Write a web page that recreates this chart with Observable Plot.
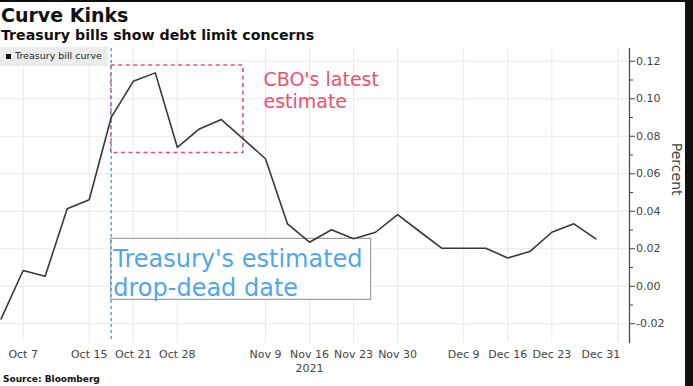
<!DOCTYPE html>
<html><head><meta charset="utf-8">
<script src="https://cdn.jsdelivr.net/npm/d3@7"></script>
<script src="https://cdn.jsdelivr.net/npm/@observablehq/plot@0.6"></script>
<style>
html,body{margin:0;padding:0;background:#111;width:693px;height:386px;overflow:hidden;}
#wrap{position:absolute;left:0;top:2px;width:685px;height:384px;background:#fff;overflow:hidden;font-family:"DejaVu Sans",sans-serif;}
#title{position:absolute;left:1px;top:2.4px;font-weight:bold;font-size:19px;line-height:1.164;color:#111;white-space:nowrap;}
#subtitle{position:absolute;left:1px;top:25px;font-weight:bold;font-size:14.2px;line-height:1.164;color:#111;white-space:nowrap;}
#chart{position:absolute;left:0;top:40px;}
#legend{position:absolute;left:0;top:45px;width:108px;height:19px;background:#ececec;}
#legend .sw{position:absolute;left:6px;top:7px;width:5px;height:5px;background:#111;}
#legend .lb{position:absolute;left:15px;top:3px;font-size:9.5px;line-height:1.164;color:#222;white-space:nowrap;}
#source{position:absolute;left:3px;top:371.6px;font-weight:bold;font-size:9px;line-height:1.164;color:#111;white-space:nowrap;}
</style>
</head><body>
<div id="wrap">
  <div id="title">Curve Kinks</div>
  <div id="subtitle">Treasury bills show debt limit concerns</div>
  <div id="chart"></div>
  <div id="legend"><div class="sw"></div><div class="lb">Treasury bill curve</div></div>
  <div id="source">Source: Bloomberg</div>
</div>
<script>
// Bill maturity dates (2021), equally spaced on the x axis
const dates = ["Oct 5","Oct 7","Oct 12","Oct 14","Oct 15","Oct 19","Oct 21","Oct 26","Oct 28",
  "Nov 2","Nov 4","Nov 5","Nov 9","Nov 12","Nov 16","Nov 18","Nov 23","Nov 26","Nov 30",
  "Dec 2","Dec 7","Dec 9","Dec 14","Dec 16","Dec 21","Dec 23","Dec 28","Dec 30","Dec 31"];
// Treasury bill yields (percent)
const rates = [-0.0174, 0.0084, 0.0053, 0.0413, 0.0461, 0.0901, 0.1093, 0.1138, 0.0741,
  0.0839, 0.0889, 0.0785, 0.0680, 0.0333, 0.0235, 0.0301, 0.0253, 0.0288, 0.0382,
  0.0292, 0.0203, 0.0203, 0.0203, 0.0151, 0.0185, 0.0288, 0.0333, 0.0253, null];
const xTickLabels = ["Oct 7","Oct 15","Oct 21","Oct 28","Nov 9","Nov 16","Nov 23","Nov 30",
  "Dec 9","Dec 16","Dec 23","Dec 31"];
const yTicks = [-0.02, 0, 0.02, 0.04, 0.06, 0.08, 0.10, 0.12];
const yMinorTicks = [-0.01, 0.01, 0.03, 0.05, 0.07, 0.09, 0.11];
const yearLabel = "2021";
const yearUnder = "Nov 16";
const dropDeadDate = "Oct 19";
const cboStart = "Oct 19", cboEnd = "Nov 5";
const cboRange = [0.0711, 0.1177];

const data = dates.map((date, i) => ({i, date, rate: rates[i]}));
const idx = d => dates.indexOf(d);
const tickIdx = xTickLabels.map(idx);

const chart = Plot.plot({
  width: 685, height: 330,
  marginTop: 6, marginBottom: 30, marginLeft: 0, marginRight: 56,
  style: {fontFamily: "DejaVu Sans", fontSize: "11px", color: "#444", background: "transparent", overflow: "visible"},
  x: {type: "linear", domain: [0, dates.length - 1], range: [0.6, 617.4], axis: null},
  y: {domain: [-0.030, 0.1268], axis: null},
  marks: [
    Plot.ruleY(yTicks, {stroke: "#e9e9e9", strokeWidth: 1}),
    Plot.ruleX(tickIdx, {stroke: "#e9e9e9", strokeWidth: 1}),
    // Treasury annotation box
    Plot.rect([0], {x1: idx(dropDeadDate), x2: 16.8, y1: -0.00725, y2: 0.0253, fill: "white", stroke: "#8c8c8c", strokeWidth: 1}),
    // CBO estimate box
    Plot.rect([0], {x1: idx(cboStart), x2: idx(cboEnd), y1: cboRange[0], y2: cboRange[1], fill: "none", stroke: "#ef4f6d", strokeWidth: 1.6, strokeDasharray: "4,3.5"}),
    Plot.ruleX([idx(dropDeadDate)], {stroke: "#58a6ea", strokeWidth: 1.5, strokeDasharray: "3,3"}),
    Plot.line(data.filter(d => d.rate != null), {x: "i", y: "rate", stroke: "#383838", strokeWidth: 1.6}),
    Plot.text(["Treasury's estimated\ndrop-dead date"], {x: idx(dropDeadDate), y: 0.0253, textAnchor: "start", lineAnchor: "top", dx: 2, dy: 7.4, lineHeight: 1.21, fontSize: 24, fill: "#4fa5f2"}),
    Plot.text(["CBO's latest\nestimate"], {x: idx("Nov 9"), y: 0.12, textAnchor: "start", lineAnchor: "top", dx: -2, dy: 9, lineHeight: 1.16, fontSize: 19, fill: "#ef4f6d"}),
    // x tick labels
    Plot.text(tickIdx, {x: d => d, text: d => dates[d], frameAnchor: "bottom", lineAnchor: "bottom", dy: 15, fontSize: 11, fill: "#444"}),
    Plot.text([yearLabel], {x: idx(yearUnder), frameAnchor: "bottom", lineAnchor: "bottom", dy: 29, fontSize: 11, fill: "#444"}),
    Plot.axisY(yTicks, {anchor: "right", tickSize: 5, tickPadding: 1.5, tickFormat: d => d.toFixed(2), label: null, fontSize: 11, fill: "#444", stroke: "#444"}),
    Plot.axisY(yMinorTicks, {anchor: "right", tickSize: 3, tickFormat: () => "", label: null, stroke: "#444"}),
    Plot.frame({anchor: "right", stroke: "#444", strokeWidth: 1.2}),
    Plot.text(["Percent"], {frameAnchor: "right", dx: 47, rotate: 90, fontSize: 14, fill: "#444"})
  ]
});
document.getElementById("chart").appendChild(chart);
// shift last x tick label left so it does not collide with the axis (as in the original)
chart.querySelectorAll("text").forEach(t => {
  if (t.textContent === "Dec 31") t.setAttribute("transform", (t.getAttribute("transform") || "") + " translate(-17,0)");
});
</script>
</body></html>
